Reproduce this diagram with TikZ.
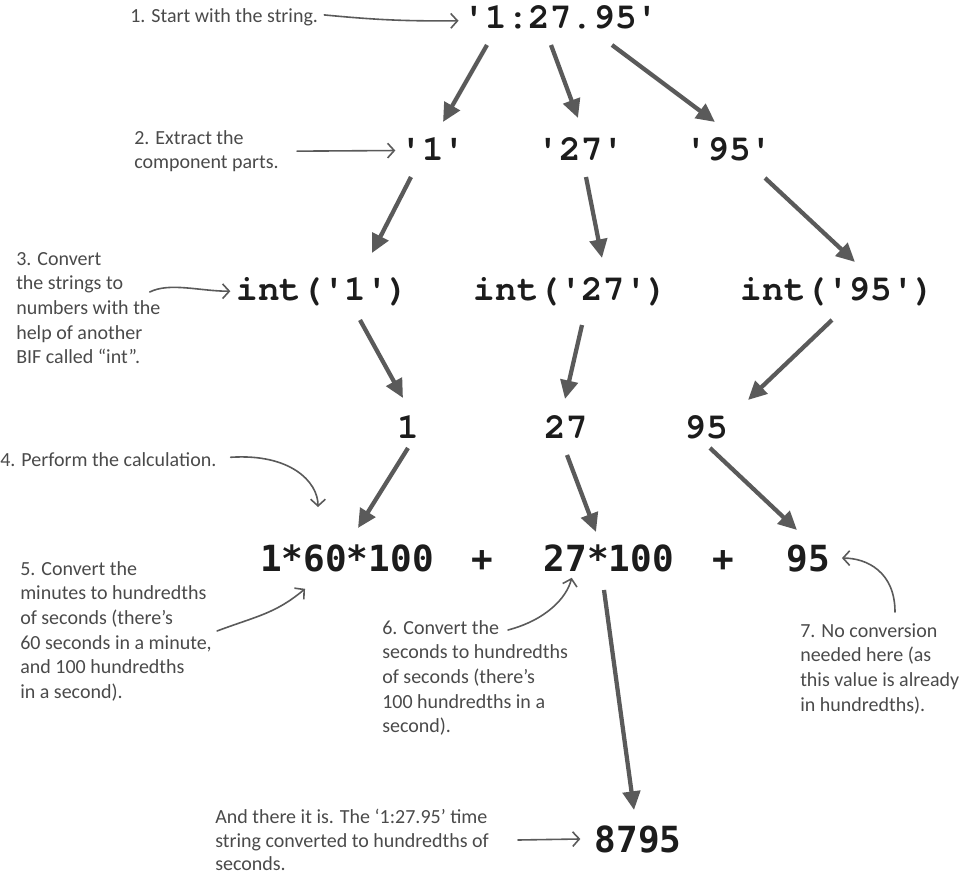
\documentclass[tikz,border=0pt]{standalone}
\usepackage{fontspec}
\usepackage{xcolor}
\usetikzlibrary{arrows.meta}
\usetikzlibrary{calc}
\setmonofont{texgyrecursor}[Extension=.otf, UprightFont=*-regular, BoldFont=*-bold]
\newfontfamily\sumfont{DejaVu Sans Mono}
\newfontfamily\handfont{Carlito}
\definecolor{inkgray}{HTML}{5a5a5a}
\definecolor{pencil}{HTML}{4a4a4a}
\definecolor{codeblack}{HTML}{1c1c1c}
\tikzset {
  % pieces of the string and the int() calls
  code/.style = {anchor=base, inner sep=0pt, text=codeblack, font=\ttfamily\bfseries\fontsize{27}{30}\selectfont},
  % pieces of the sum
  sumpart/.style = {anchor=base, inner sep=0pt, text=codeblack, font=\sumfont\bfseries\fontsize{27}{30}\selectfont},
  % handwritten remarks
  remark/.style = {anchor=north west, inner sep=0pt, align=left, text=pencil, font=\handfont\fontsize{15}{18.5}\selectfont},
  % thick arrows between the steps
  flow/.style = {draw=inkgray, line width=3.2pt, -{Triangle[length=14pt, width=13pt]}},
  % thin arrows from the remarks
  hint/.style = {draw=inkgray, line width=1.2pt, line cap=round, -{Straight Barb[length=5pt, width=11pt]}},
}

\begin{document}
\begin{tikzpicture}[x=0.75pt, y=-0.75pt]
      \useasboundingbox (0,0) rectangle (961,878);

      \node[code] (src) at (561,28) {'1:27.95'};
      \node[code] (s1) at (433,160) {'1'};
      \node[code] (s2) at (581,160) {'27'};
      \node[code] (s3) at (729,160) {'95'};
      \node[code] (i1) at (323,300) {int('1')};
      \node[code] (i2) at (571,300) {int('27')};
      \node[code] (i3) at (838,300) {int('95')};
      \node[code] (v1) at (408,438) {1};
      \node[code] (v2) at (566,438) {27};
      \node[code] (v3) at (706,438) {95};
      \node[sumpart] (m1) at (347,571) {1*60*100};
      \node[sumpart] (plus1) at (482,571) {+};
      \node[sumpart] (m2) at (609,571) {27*100};
      \node[sumpart] (plus2) at (723,571) {+};
      \node[sumpart] (m3) at (808,571) {95};
      \node[sumpart] (total) at (638,852) {8795};

      \node[remark] (r1) at (130,8) {1. Start with the string.};
      \node[remark] (r2) at (134,130) {2. Extract the\\component parts.};
      \node[remark] (r3) at (16,252) {3. Convert\\the strings to\\numbers with the\\help of another\\BIF called “int”.};
      \node[remark] (r4) at (0,452) {4. Perform the calculation.};
      \node[remark] (r5) at (20,561) {5. Convert the\\minutes to hundredths\\of seconds (there’s\\60 seconds in a minute,\\and 100 hundredths\\in a second).};
      \node[remark] (r6) at (382,620) {6. Convert the\\seconds to hundredths\\of seconds (there’s\\100 hundredths in a\\second).};
      \node[remark] (r7) at (800,623) {7. No conversion\\needed here (as\\this value is already\\in hundredths).};
      \node[remark, font=\handfont\fontsize{15}{17.5}\selectfont] (r8) at (215,809) {And there it is. The ‘1:27.95’ time\\string converted to hundredths of\\seconds.};

      \draw[flow] ($(src.base)+(-74,17)$) -- ($(s1.base)+(10,-38)$);
      \draw[flow] ($(src.base)+(-10,17)$) -- ($(s2.base)+(-3,-42)$);
      \draw[flow] ($(src.base)+(51,17)$) -- ($(s3.base)+(-14,-38)$);
      \draw[flow] ($(s1.base)+(-22,17)$) -- ($(i1.base)+(49,-47)$);
      \draw[flow] ($(s2.base)+(5,17)$) -- ($(i2.base)+(31,-42)$);
      \draw[flow] ($(s3.base)+(36,18)$) -- ($(i3.base)+(17,-38)$);
      \draw[flow] ($(i1.base)+(37,20)$) -- ($(v1.base)+(-5,-40)$);
      \draw[flow] ($(i2.base)+(11,25)$) -- ($(v2.base)+(-1,-39)$);
      \draw[flow] ($(i3.base)+(-6,20)$) -- ($(v3.base)+(42,-38)$);
      \draw[flow] ($(v1.base)+(0,10)$) -- ($(m1.base)+(11,-43)$);
      \draw[flow] ($(v2.base)+(1,17)$) -- ($(m2.base)+(-13,-39)$);
      \draw[flow] ($(v3.base)+(4,10)$) -- ($(m3.base)+(-11,-41)$);
      \draw[flow] ($(m2.base)+(-5,19)$) -- ($(total.base)+(-4,-42)$);

      \draw[hint] ($(r1.east)+(6,-2)$) to[bend right=3] ($(src.west)+(-5,4)$);
      \draw[hint] ($(r2.east)+(18,0)$) -- ($(s1.west)+(-5,2)$);
      \draw[hint] ($(r3.north east)+(-11,40)$) .. controls +(20,-10) and +(-30,0) .. ($(i1.west)+(-6,0)$);
      \draw[hint] ($(r4.east)+(14,-2)$) .. controls +(60,-4) and +(0,-25) .. ($(m1.north)+(-29,-37)$);
      \draw[hint] ($(r5.north east)+(5,70)$) .. controls +(40,-15) and +(-30,25) .. ($(m1.south west)+(45,17)$);
      \draw[hint] ($(r6.north west)+(126,10)$) .. controls +(38,-10) and +(-5,20) .. ($(m2.south west)+(28,6)$);
      \draw[hint] ($(r7.north west)+(95,-11)$) .. controls +(0,-40) and +(25,0) .. ($(m3.east)+(12,0)$);
      \draw[hint] ($(r8.north west)+(303,31)$) -- ($(total.west)+(-14,0)$);
\end{tikzpicture}
\end{document}
